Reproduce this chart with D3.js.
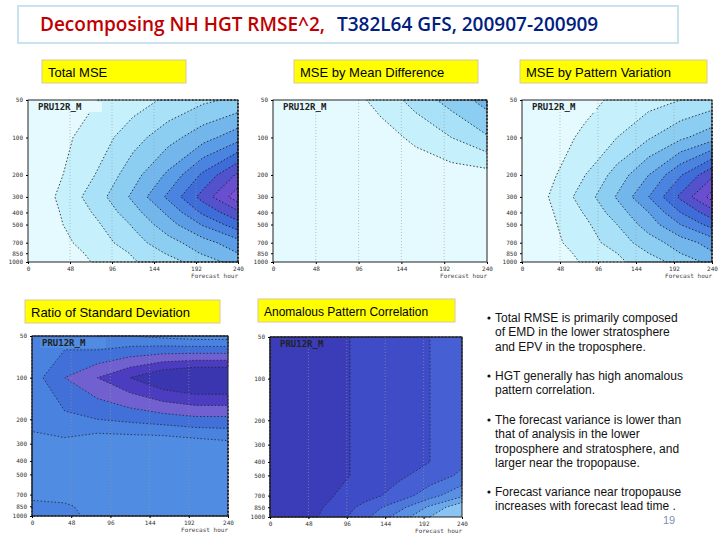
<!DOCTYPE html>
<html><head><meta charset="utf-8">
<script src="https://cdn.jsdelivr.net/npm/d3@7"></script>
<style>body{margin:0;background:#fff}svg{display:block}</style></head>
<body><svg id="c" width="720" height="540"></svg>
<script>
const pressures=[50,100,200,300,400,500,700,850,1000];
const hours=[0,40,80,120,160,200,240];
const xTicks=[0,48,96,144,192,240];
const totalMSE=[
[0,0.5,1,1.5,2.2,2.8,3.2],
[0,0.8,1.5,2.6,3.6,4.6,5.6],
[0,1,2.1,3.6,5.2,7.2,9.2],
[0,1.3,2.6,4.2,6.2,8.4,10.6],
[0,1.1,2.2,3.6,5.2,7.2,8.8],
[0,1,1.9,3.1,4.6,6.1,7.6],
[0,0.8,1.5,2.6,3.6,4.6,5.6],
[0,0.7,1.2,2.1,3.1,4.1,5],
[0,0.6,1.1,1.9,2.6,3.5,4.4]];
const meanDiff=[
[0,0.2,0.5,1.3,2.4,3.4,4.4],
[0,0.1,0.3,0.6,1.2,2.0,2.9],
[0,0.1,0.2,0.3,0.4,0.5,0.6],
[0,0.1,0.2,0.3,0.4,0.5,0.5],
[0,0.1,0.2,0.3,0.3,0.4,0.4],
[0,0.1,0.2,0.2,0.3,0.3,0.4],
[0,0.1,0.2,0.2,0.3,0.3,0.4],
[0,0.1,0.2,0.2,0.3,0.3,0.4],
[0,0.1,0.2,0.2,0.3,0.3,0.4]];
const patternVar=[
[0,0.3,0.7,1.2,1.6,2.0,2.4],
[0,0.6,1.2,2.0,2.9,3.8,4.6],
[0,0.9,2.0,3.4,5.0,6.9,8.8],
[0,1.2,2.5,4.1,6.0,8.2,10.4],
[0,1.0,2.1,3.5,5.0,7.0,8.6],
[0,0.9,1.8,3.0,4.5,6.0,7.4],
[0,0.8,1.5,2.5,3.5,4.5,5.4],
[0,0.7,1.2,2.0,3.0,4.0,4.9],
[0,0.6,1.1,1.8,2.5,3.4,4.3]];
const ratioSD=[
[0.95,0.95,0.96,0.96,0.965,0.97,0.97],
[0.95,0.92,0.9,0.88,0.86,0.85,0.85],
[0.95,0.945,0.94,0.935,0.93,0.925,0.925],
[0.97,0.965,0.975,0.975,0.975,0.97,0.965],
[0.97,0.965,0.965,0.965,0.965,0.965,0.965],
[0.965,0.965,0.965,0.97,0.97,0.965,0.965],
[0.965,0.965,0.975,0.975,0.975,0.975,0.97],
[0.955,0.958,0.965,0.965,0.965,0.965,0.97],
[0.95,0.955,0.965,0.965,0.965,0.965,0.965]];
const anomCorr=[
[1,0.998,0.996,0.994,0.992,0.99,0.988],
[1,0.998,0.996,0.994,0.992,0.99,0.988],
[1,0.998,0.996,0.994,0.992,0.99,0.987],
[1,0.998,0.996,0.994,0.992,0.99,0.987],
[1,0.998,0.996,0.994,0.992,0.99,0.986],
[1,0.998,0.996,0.994,0.991,0.988,0.984],
[1,0.998,0.995,0.992,0.988,0.982,0.976],
[1,0.997,0.994,0.988,0.982,0.974,0.966],
[1,0.997,0.993,0.986,0.978,0.97,0.96]];
const mseThr=[1,2,3,4,5,6,7,8,9,10];
const mseCol=["#e4fafe","#c6f1fc","#a9e2f8","#8ccdf2","#72b6ec","#5a9ce6","#4a84e0","#3e6cd8","#5252cc","#6a4ed0","#7a52d6"];
const mdThr=[1,2,3,4,5];
const ratioThr=[0.88,0.9,0.92,0.94,0.96];
const ratioCol=["#3a36b0","#4c3cc0","#7060d0","#4070d8","#4a82e0","#4f8ce2","#69a6ec"];
const acThr=[0.97,0.975,0.98,0.985,0.99,0.995];
const acCol=["#8ac4f2","#6aa8ea","#5a90e4","#4c78dc","#4660d4","#3e4cc8","#3a3cb8"];

const svg=d3.select("#c");
svg.append("rect").attr("x",18).attr("y",6).attr("width",660).attr("height",37).attr("fill","#fff").attr("stroke","#c8e2ee").attr("stroke-width",2);
const tt=svg.append("text").attr("x",40).attr("y",31).attr("font-family","Open Sans, sans-serif").attr("font-size",19).attr("font-weight",600);
tt.append("tspan").attr("fill","#c00000").text("Decomposing NH HGT RMSE^2,");
tt.append("tspan").attr("fill","#002080").attr("dx",12).text("T382L64 GFS, 200907-200909");

function label(x,y,w,h,t,size){
  svg.append("rect").attr("x",x).attr("y",y).attr("width",w).attr("height",h).attr("fill","#ffff00").attr("stroke","#d8c8a0");
  svg.append("text").attr("x",x+6).attr("y",y+h/2+5).attr("font-family","Liberation Sans, Arial").attr("font-size",size||13).text(t);
}
label(42,60,144,23,"Total  MSE");
label(294,60,184,23,"MSE by Mean Difference");
label(520,60,187,23,"MSE by Pattern Variation");
label(25,300,195,23,"Ratio of Standard Deviation");
label(258,299,197,23,"Anomalous Pattern Correlation",12);

function panel(x0,y0,w,h,data,thr,cols,lineCol,labelCol){
  const g=svg.append("g");
  const xs=d3.scaleLinear().domain([0,240]).range([x0,x0+w]);
  const ys=d3.scaleLog().domain([50,1000]).range([y0,y0+h]);
  const rowY=d3.scaleLinear().domain(d3.range(pressures.length)).range(pressures.map(p=>ys(p)));
  const colX=d3.scaleLinear().domain(d3.range(hours.length)).range(hours.map(t=>xs(t)));
  const clampR=v=>Math.max(0,Math.min(pressures.length-1,v));
  const clampC=v=>Math.max(0,Math.min(hours.length-1,v));
  const values=data.flat();
  const proj=d3.geoTransform({point:function(px,py){this.stream.point(colX(clampC(px-0.5)),rowY(clampR(py-0.5)));}});
  const path=d3.geoPath(proj);
  const cont=d3.contours().size([hours.length,pressures.length]).smooth(true).thresholds(thr)(values);
  g.append("rect").attr("x",x0).attr("y",y0).attr("width",w).attr("height",h).attr("fill",cols[0]);
  cont.forEach((c,i)=>g.append("path").attr("d",path(c)).attr("fill",cols[i+1]).attr("stroke","none"));
  cont.forEach((c,i)=>g.append("path").attr("d",path(c)).attr("fill","none").attr("stroke",lineCol).attr("stroke-width",0.8).attr("stroke-dasharray","1.5,2"));
  xTicks.slice(1,-1).forEach(t=>g.append("line").attr("x1",xs(t)).attr("x2",xs(t)).attr("y1",y0).attr("y2",y0+h).attr("stroke","#999").attr("stroke-width",0.6).attr("stroke-dasharray","1,2"));
  g.append("rect").attr("x",x0).attr("y",y0).attr("width",w).attr("height",h).attr("fill","none").attr("stroke","#222").attr("stroke-width",1);
  const ax=g.append("g").attr("transform",`translate(0,${y0+h})`).call(d3.axisBottom(xs).tickValues(xTicks).tickSize(2));
  const ay=g.append("g").attr("transform",`translate(${x0},0)`).call(d3.axisLeft(ys).tickValues(pressures).tickFormat(d3.format("d")).tickSize(2));
  [ax,ay].forEach(a=>{a.select(".domain").remove();a.selectAll("text").attr("font-size",6).attr("font-family","DejaVu Sans Mono").attr("fill","#333");});
  g.append("text").attr("x",x0+w).attr("y",y0+h+16).attr("text-anchor","end").attr("font-size",6).attr("font-family","DejaVu Sans Mono").attr("fill","#444").text("Forecast hour");
  g.append("rect").attr("x",x0+8).attr("y",y0+2).attr("width",66).attr("height",10).attr("fill",labelCol);
  g.append("text").attr("x",x0+10).attr("y",y0+10).attr("font-size",9).attr("font-weight","bold").attr("font-family","DejaVu Sans Mono").attr("fill","#222").text("PRU12R_M");
}
panel(28,100,210,162,totalMSE,mseThr,mseCol,"#111","#e4fafe");
panel(273,100,214,162,meanDiff,mdThr,mseCol,"#111","#e4fafe");
panel(522,100,190,162,patternVar,mseThr,mseCol,"#111","#e4fafe");
panel(32,336,196,180,ratioSD,ratioThr,ratioCol,"#223","#4f8ce2");
panel(270,337,192,180,anomCorr,acThr,acCol,"#223","#3a3cb8");

const bullets=[
 ["Total RMSE is primarily composed","of EMD in the lower stratosphere","and EPV in the troposphere."],
 ["HGT generally has high anomalous","pattern correlation."],
 ["The forecast variance is lower than","that of analysis in the lower","troposphere and stratosphere, and","larger near the tropopause."],
 ["Forecast variance near tropopause","increases with forecast lead time ."]];
const by=[322,380,424,496];
bullets.forEach((b,i)=>{
  svg.append("circle").attr("cx",489).attr("cy",by[i]-4).attr("r",1.6).attr("fill","#111");
  const t=svg.append("text").attr("font-family","Liberation Sans, Arial").attr("font-size",12).attr("fill","#111");
  b.forEach((l,j)=>t.append("tspan").attr("x",495).attr("y",by[i]+j*14.3).text(l));
});
svg.append("text").attr("x",663).attr("y",524).attr("font-family","Liberation Sans, Arial").attr("font-size",11).attr("fill","#8090b0").text("19");
</script></body></html>
